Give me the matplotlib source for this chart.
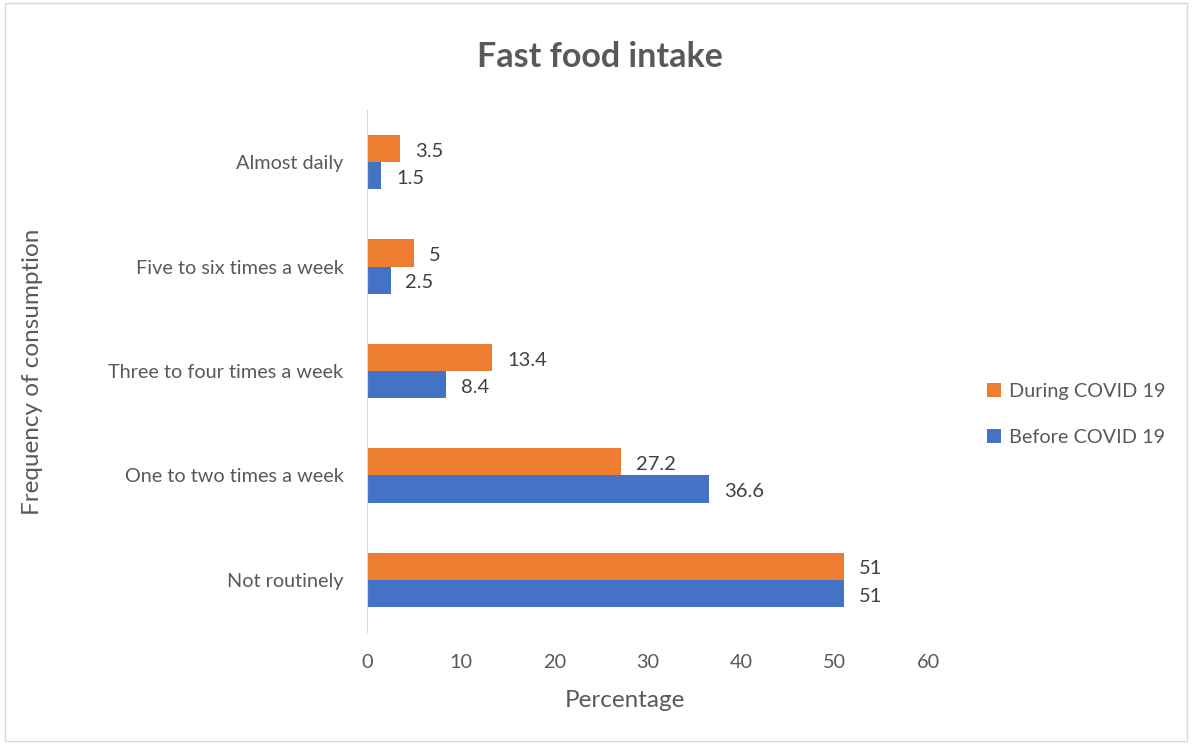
import matplotlib.pyplot as plt
import numpy as np

plt.rcParams["font.family"] = ["Lato", "DejaVu Sans"]

categories = ["Not routinely", "One to two times a week", "Three to four times a week",
              "Five to six times a week", "Almost daily"]
before = [51, 36.6, 8.4, 2.5, 1.5]
during = [51, 27.2, 13.4, 5, 3.5]
xticks = [0, 10, 20, 30, 40, 50, 60]

orange = "#ED7D31"
blue = "#4472C4"
grey = "#595959"

fig = plt.figure(figsize=(11.92, 7.44), dpi=100)
fig.patches.append(plt.Rectangle((0.004, 0.004), 0.992, 0.992, transform=fig.transFigure,
                                 fill=False, edgecolor="#D9D9D9", linewidth=1))
ax = fig.add_axes([0.308, 0.1505, 0.4706, 0.7016])

y = np.arange(len(categories))
h = 0.26
b1 = ax.barh(y - h / 2, before, height=h, color=blue, label="Before COVID 19")
b2 = ax.barh(y + h / 2, during, height=h, color=orange, label="During COVID 19")

# data labels a touch below bar centre, like excel
for bars, vals in ((b1, before), (b2, during)):
    for bar, v in zip(bars, vals):
        ax.text(v + 1.6, bar.get_y() + bar.get_height() / 2 - 0.025, f"{v:g}",
                va="center", ha="left", fontsize=14.5, color="#404040")

ax.set_xlim(0, 60)
ax.set_ylim(-0.5, len(categories) - 0.5)
ax.set_xticks(xticks)
ax.set_yticks(y)
ax.set_yticklabels(categories)
ax.tick_params(length=0, labelsize=14.3, colors=grey)
ax.tick_params(axis="y", pad=17)
ax.tick_params(axis="x", pad=16)
for s in ("top", "right", "bottom"):
    ax.spines[s].set_visible(False)
ax.spines["left"].set_color("#D9D9D9")

fig.text(0.524, 0.059, "Percentage", ha="center", va="center", fontsize=17.5, color=grey)
fig.text(0.027, 0.5, "Frequency of consumption", rotation=90, va="center", ha="center",
         fontsize=17.5, color=grey)
fig.text(0.503, 0.923, "Fast food intake", ha="center", va="center", fontsize=24.5,
         fontweight="bold", color=grey)

handles, labels = ax.get_legend_handles_labels()
fig.legend(handles[::-1], labels[::-1], loc="center left", bbox_to_anchor=(0.813, 0.443),
           frameon=False, fontsize=14.3, labelcolor=grey, handlelength=0.7, handleheight=0.7,
           labelspacing=1.45, handletextpad=0.4)

fig.savefig("out.png", dpi=100)
